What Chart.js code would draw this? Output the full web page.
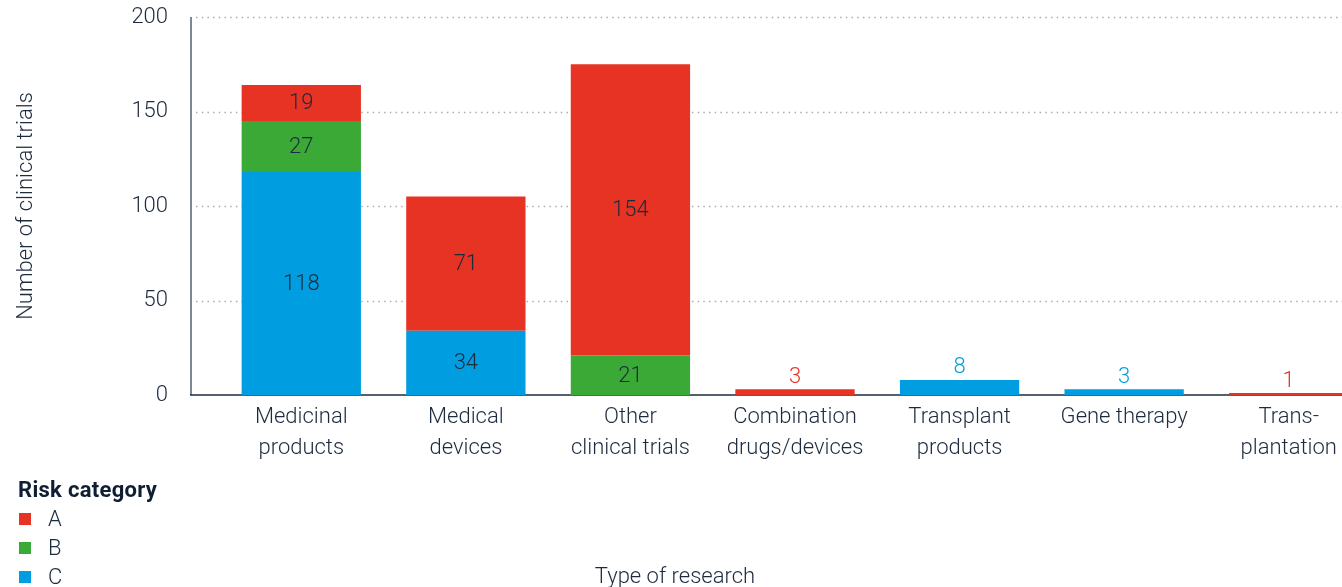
<!DOCTYPE html>
<html>
<head>
<meta charset="utf-8">
<script src="https://cdn.jsdelivr.net/npm/chart.js@4.4.1/dist/chart.umd.min.js"></script>
<style>
  html, body { margin: 0; padding: 0; background: #fff; overflow: hidden; }
  #wrap { position: relative; width: 1342px; height: 587px; overflow: hidden; }
  #box { position: absolute; left: 0; top: 0; width: 1371px; height: 587px; }
  #legend { position: absolute; left: 18px; top: 475px; font-family: Roboto, sans-serif; color: #1d2b3e; }
  #legend .ttl { font-weight: bold; font-size: 22px; color: #0f1e33; height: 29px; line-height: 29px; letter-spacing: 0.3px; }
  #legend .item { height: 29px; font-size: 22px; font-weight: 300; display: flex; align-items: center; }
  #legend .sw { width: 12px; height: 12px; display: inline-block; margin: 0 17px 0 1px; }
  #xtitle { position: absolute; left: 0; width: 1350px; top: 563px; text-align: center; line-height: 26px;
            font-family: Roboto, sans-serif; font-size: 22px; font-weight: 300; color: #1d2b3e; }
</style>
</head>
<body>
<div id="wrap">
  <div id="box"><canvas id="chart"></canvas></div>
  <div id="legend"></div>
  <div id="xtitle">Type of research</div>
</div>
<script>
// categories (multi-line tick labels)
var categories = [
  ["Medicinal", "products"],
  ["Medical", "devices"],
  ["Other", "clinical trials"],
  ["Combination", "drugs/devices"],
  ["Transplant", "products"],
  ["Gene therapy"],
  ["Trans-", "plantation"]
];

// risk categories, stacked C at the bottom, then B, then A
var riskC = [118, 34, 0, 0, 8, 3, 0];
var riskB = [27, 0, 21, 0, 0, 0, 0];
var riskA = [19, 71, 154, 3, 0, 0, 1];

var yTicks = [0, 50, 100, 150, 200];

var colA = "#e63323";
var colB = "#3ba935";
var colC = "#009ee0";
var textCol = "#1d2b3e";
var fontFam = "Roboto";

// legend (A, B, C order)
var legendItems = [["A", colA], ["B", colB], ["C", colC]];
var lg = document.getElementById("legend");
var html = '<div class="ttl">Risk category</div>';
legendItems.forEach(function (it) {
  html += '<div class="item"><span class="sw" style="background:' + it[1] + '"></span>' + it[0] + '</div>';
});
lg.innerHTML = html;

// dotted grid, vertical axis line and baseline
var axisPlugin = {
  id: "axisLines",
  beforeDatasetsDraw: function (chart) {
    var ctx = chart.ctx;
    var y = chart.scales.y;
    var area = chart.chartArea;
    var x0 = area.left - 28;
    ctx.save();
    ctx.strokeStyle = "#a9adb3";
    ctx.lineWidth = 1.3;
    ctx.setLineDash([1.5, 4.2]);
    yTicks.forEach(function (v) {
      if (v === 0) return;
      var py = Math.round(y.getPixelForValue(v)) + 0.5;
      ctx.beginPath();
      ctx.moveTo(x0 + 5, py);
      ctx.lineTo(area.right, py);
      ctx.stroke();
    });
    ctx.setLineDash([]);
    // vertical axis
    ctx.strokeStyle = "#7d8895";
    ctx.lineWidth = 2;
    ctx.beginPath();
    ctx.moveTo(x0, y.getPixelForValue(200));
    ctx.lineTo(x0, y.getPixelForValue(0));
    ctx.stroke();
    // baseline
    ctx.strokeStyle = "#1d2b3e";
    ctx.lineWidth = 1.5;
    var by = y.getPixelForValue(0);
    ctx.beginPath();
    ctx.moveTo(x0 - 1, by);
    ctx.lineTo(area.right, by);
    ctx.stroke();
    ctx.restore();
  }
};

// value labels: inside the segment if tall enough, otherwise above in the series colour
var valuePlugin = {
  id: "values",
  afterDatasetsDraw: function (chart) {
    var ctx = chart.ctx;
    ctx.save();
    ctx.font = "300 22px " + fontFam + ", sans-serif";
    ctx.textAlign = "center";
    chart.data.datasets.forEach(function (ds, i) {
      var meta = chart.getDatasetMeta(i);
      meta.data.forEach(function (bar, j) {
        var v = ds.data[j];
        if (!v) return;
        var h = bar.base - bar.y;
        if (h > 26) {
          ctx.fillStyle = textCol;
          ctx.textBaseline = "middle";
          ctx.fillText(String(v), bar.x, (bar.y + bar.base) / 2 + 1);
        } else {
          ctx.fillStyle = ds.backgroundColor;
          ctx.textBaseline = "bottom";
          ctx.fillText(String(v), bar.x, bar.y - 1);
        }
      });
    });
    ctx.restore();
  }
};

new Chart(document.getElementById("chart"), {
  type: "bar",
  data: {
    labels: categories,
    datasets: [
      { label: "C", data: riskC, backgroundColor: colC },
      { label: "B", data: riskB, backgroundColor: colB },
      { label: "A", data: riskA, backgroundColor: colA }
    ]
  },
  options: {
    responsive: true,
    maintainAspectRatio: false,
    animation: false,
    layout: { padding: { top: 17, left: 0, right: 0, bottom: 0 } },
    categoryPercentage: 1,
    barPercentage: 0.725,
    plugins: { legend: { display: false }, tooltip: { enabled: false } },
    scales: {
      x: {
        stacked: true,
        grid: { display: false, drawTicks: false },
        border: { display: false },
        ticks: {
          color: textCol,
          padding: 7,
          maxRotation: 0,
          autoSkip: false,
          font: { family: fontFam, size: 22, weight: 300, lineHeight: 1.41 }
        },
        afterFit: function (s) { s.height = 192; }
      },
      y: {
        stacked: true,
        min: 0,
        max: 200,
        grid: { display: false, drawTicks: true, tickLength: 48 },
        border: { display: false },
        afterBuildTicks: function (s) {
          s.ticks = yTicks.map(function (v) { return { value: v }; });
        },
        ticks: {
          color: textCol,
          padding: 3,
          font: { family: fontFam, size: 22, weight: 300 }
        },
        title: {
          display: true,
          text: "Number of clinical trials",
          color: textCol,
          padding: { top: 13, bottom: 0 },
          font: { family: fontFam, size: 22, weight: 300 }
        },
        afterFit: function (s) { s.width = 219; }
      }
    }
  },
  plugins: [axisPlugin, valuePlugin]
});
</script>
</body>
</html>
